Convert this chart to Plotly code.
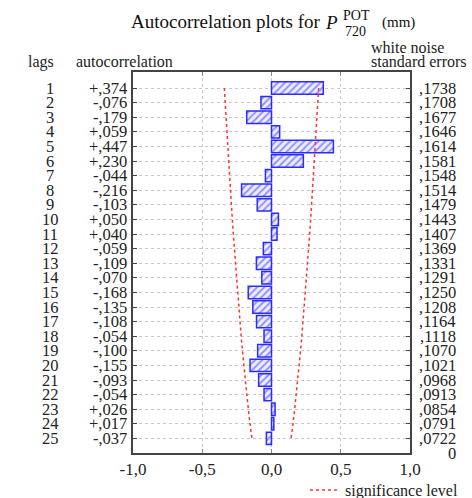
import plotly.graph_objects as go

lags = list(range(1, 26))
autocorr = [0.374, -0.076, -0.179, 0.059, 0.447, 0.230, -0.044, -0.216, -0.103, 0.050,
            0.040, -0.059, -0.109, -0.070, -0.168, -0.135, -0.108, -0.054, -0.100, -0.155,
            -0.093, -0.054, 0.026, 0.017, -0.037]
std_err = [0.1738, 0.1708, 0.1677, 0.1646, 0.1614, 0.1581, 0.1548, 0.1514, 0.1479, 0.1443,
           0.1407, 0.1369, 0.1331, 0.1291, 0.1250, 0.1208, 0.1164, 0.1118, 0.1070, 0.1021,
           0.0968, 0.0913, 0.0854, 0.0791, 0.0722]
x_ticks = [-1.0, -0.5, 0.0, 0.5, 1.0]
x_tick_text = ["-1,0", "-0,5", "0,0", "0,5", "1,0"]
z_crit = 1.96

FONT = "Liberation Serif"
W, H = 472, 498
L, R, T, B = 133, 62, 72, 45
pw = W - L - R

def px(xpix):
    return (xpix - L) / pw

def py(ypix):
    return 1 - (ypix - T) / (H - T - B)

def fmt_ac(v):
    s = f"{v:+.3f}"
    return s.replace("0.", ",", 1)

def fmt_se(v):
    return f"{v:.4f}".replace("0.", ",", 1)

fig = go.Figure()
fig.add_trace(go.Bar(
    x=autocorr, y=lags, orientation="h", width=0.85,
    marker=dict(color="white", line=dict(color="#2b2bff", width=1.5),
                pattern=dict(shape="/", fgcolor="#3535ff", bgcolor="#eeeeff",
                             size=5, solidity=0.4)),
    showlegend=False, hoverinfo="skip"))

upper = [z_crit * s for s in std_err]
lower = [-z_crit * s for s in std_err]
fig.add_trace(go.Scatter(x=upper, y=lags, mode="lines",
                         line=dict(color="#ff3333", width=1.5, dash="dot"),
                         name="significance level", showlegend=True))
fig.add_trace(go.Scatter(x=lower, y=lags, mode="lines",
                         line=dict(color="#ff3333", width=1.5, dash="dot"),
                         showlegend=False))

NUM = 16.5
ann = []
for lag, v, s in zip(lags, autocorr, std_err):
    ann.append(dict(x=px(50), y=lag, xref="paper", yref="y", text=str(lag),
                    showarrow=False, xanchor="center", yanchor="middle", borderpad=0,
                    font=dict(family=FONT, size=NUM, color="#222")))
    ann.append(dict(x=px(128), y=lag, xref="paper", yref="y", text=fmt_ac(v),
                    showarrow=False, xanchor="right", yanchor="middle", borderpad=0,
                    font=dict(family=FONT, size=NUM, color="#222")))
    ann.append(dict(x=px(457), y=lag, xref="paper", yref="y", text=fmt_se(s),
                    showarrow=False, xanchor="right", yanchor="middle", borderpad=0,
                    font=dict(family=FONT, size=NUM, color="#222")))
ann.append(dict(x=px(457), y=26, xref="paper", yref="y", text="0",
                showarrow=False, xanchor="right", yanchor="middle", borderpad=0,
                font=dict(family=FONT, size=NUM, color="#222")))

# headers
hdr = [
    ("lags", 41, 62, "center", 16),
    ("autocorrelation", 75, 62, "left", 16),
    ("white noise", 370, 47, "left", 16),
    ("standard errors", 370, 62, "left", 16),
]
for text, x, y, xa, sz in hdr:
    ann.append(dict(x=px(x), y=py(y), xref="paper", yref="paper", text=text,
                    showarrow=False, xanchor=xa, yanchor="middle", borderpad=0,
                    font=dict(family=FONT, size=sz, color="#222")))

# title pieces
title = [
    ("Autocorrelation plots for", 130, 21, "left", 19, False),
    ("P", 324, 22, "left", 19, True),
    ("POT", 342, 15, "left", 14, False),
    ("720", 344, 31, "left", 14, False),
    ("(mm)", 381, 23, "left", 15, False),
]
for text, x, y, xa, sz, it in title:
    ann.append(dict(x=px(x), y=py(y), xref="paper", yref="paper",
                    text=f"<i>{text}</i>" if it else text,
                    showarrow=False, xanchor=xa, yanchor="middle", borderpad=0,
                    font=dict(family=FONT, size=sz, color="#111")))

fig.update_layout(
    width=W, height=H,
    margin=dict(l=L, r=R, t=T, b=B, pad=0, autoexpand=False),
    plot_bgcolor="white", paper_bgcolor="white",
    barmode="overlay",
    annotations=ann,
    legend=dict(x=px(305), y=py(490), xanchor="left", yanchor="middle",
                font=dict(family=FONT, size=16, color="#222"),
                bgcolor="rgba(0,0,0,0)", itemwidth=30),
    xaxis=dict(range=[-1, 1], tickvals=x_ticks, ticktext=x_tick_text,
               showgrid=True, gridcolor="#c8c8c8", griddash="dot", gridwidth=1,
               zeroline=False, showline=True, linecolor="#444", linewidth=2,
               mirror="ticks", ticks="inside", ticklen=4, tickcolor="#888",
               tickfont=dict(family=FONT, size=17, color="#222"), fixedrange=True),
    yaxis=dict(range=[26, -0.1], tickvals=lags, showticklabels=False,
               showgrid=True, gridcolor="#c8c8c8", griddash="dot", gridwidth=1,
               zeroline=False, showline=True, linecolor="#444", linewidth=2,
               mirror="ticks", ticks="inside", ticklen=4, tickcolor="#444",
               fixedrange=True),
)

fig.write_html("out.html", config={"displayModeBar": False},
               post_script="document.body.style.margin='0';")
